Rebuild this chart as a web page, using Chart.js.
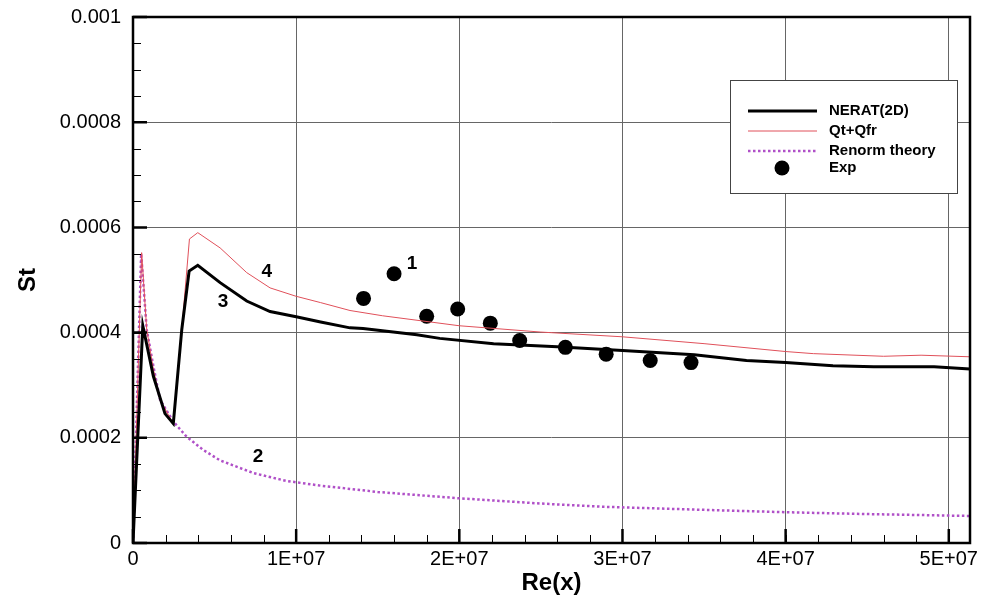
<!DOCTYPE html>
<html>
<head>
<meta charset="utf-8">
<script src="https://cdn.jsdelivr.net/npm/chart.js@4.4.0/dist/chart.umd.min.js"></script>
<style>
  html, body { margin: 0; padding: 0; background: #fff; }
</style>
</head>
<body>
<canvas id="chart" width="984" height="601"></canvas>
<script>
// NERAT(2D) - thick black line
const neratRe = [0, 0.6e6, 1.25e6, 1.96e6, 2.47e6, 2.99e6, 3.44e6, 3.97e6, 5.34e6, 6.97e6, 8.4e6, 1.0e7, 1.15e7, 1.33e7, 1.41e7, 1.74e7, 1.88e7, 2.21e7, 2.6e7, 3.0e7, 3.44e7, 3.76e7, 4.0e7, 4.29e7, 4.54e7, 4.91e7, 5.13e7];
const neratSt = [0, 0.000413, 0.000317, 0.000246, 0.000227, 0.000406, 0.000517, 0.000528, 0.000495, 0.00046, 0.00044, 0.00043, 0.00042, 0.000409, 0.000408, 0.000396, 0.000389, 0.000379, 0.000373, 0.000366, 0.000358, 0.000347, 0.000343, 0.000337, 0.000335, 0.000335, 0.000331];

// Qt+Qfr - thin red line
const qtRe = [0, 0.53e6, 0.84e6, 1.25e6, 1.66e6, 2.47e6, 2.99e6, 3.46e6, 3.97e6, 5.34e6, 6.97e6, 8.4e6, 1.0e7, 1.15e7, 1.33e7, 1.53e7, 2.0e7, 2.5e7, 3.0e7, 3.5e7, 4.0e7, 4.17e7, 4.6e7, 4.83e7, 5.13e7];
const qtSt = [0, 0.000552, 0.000406, 0.00033, 0.000272, 0.000227, 0.000406, 0.000578, 0.00059, 0.000561, 0.000514, 0.000485, 0.000469, 0.000457, 0.000442, 0.000432, 0.000413, 0.000401, 0.000392, 0.000379, 0.000364, 0.00036, 0.000355, 0.000357, 0.000354];

// Renorm theory - dotted purple line
const renRe = [0, 0.5e6, 0.84e6, 1.25e6, 1.66e6, 2.47e6, 3.29e6, 4.3e6, 5.34e6, 7.38e6, 9.4e6, 1.15e7, 1.5e7, 2.0e7, 2.5e7, 2.87e7, 3.5e7, 4.0e7, 4.5e7, 5.13e7];
const renSt = [0, 0.00055, 0.000406, 0.000336, 0.000272, 0.000231, 0.000202, 0.000177, 0.000157, 0.000133, 0.000118, 0.000109, 0.000097, 0.000085, 0.000075, 0.000069, 0.000063, 0.0000585, 0.000055, 0.0000514];

// Exp - black dots
const expRe = [1.413e7, 1.60e7, 1.80e7, 1.99e7, 2.19e7, 2.37e7, 2.65e7, 2.90e7, 3.17e7, 3.42e7];
const expSt = [0.000465, 0.000512, 0.000431, 0.000445, 0.000418, 0.000385, 0.000372, 0.000359, 0.000347, 0.000343];

// curve numbers written on the plot
const noteText = ["1", "2", "3", "4"];
const noteRe = [1.71e7, 7.67e6, 5.52e6, 8.2e6];
const noteSt = [0.00053, 0.000164, 0.000459, 0.000516];

// axis ticks
const xTicks = [0, 1e7, 2e7, 3e7, 4e7, 5e7];
const xTickLabels = ["0", "1E+07", "2E+07", "3E+07", "4E+07", "5E+07"];
const yTicks = [0, 0.0002, 0.0004, 0.0006, 0.0008, 0.001];
const yTickLabels = ["0", "0.0002", "0.0004", "0.0006", "0.0008", "0.001"];

const X_MAX = 5.13e7;
const Y_MAX = 0.001;

function toPoints(xs, ys) {
    return xs.map((x, i) => ({ x: x, y: ys[i] }));
}

Chart.defaults.font.family = "'Liberation Sans', Arial, sans-serif";
Chart.defaults.color = "#000";

// thick frame around the plot, with inward major and minor ticks
const frameTicks = {
    id: "frameTicks",
    afterDraw(chart) {
        const ctx = chart.ctx;
        const a = chart.chartArea;
        const xs = chart.scales.x, ys = chart.scales.y;
        ctx.save();
        ctx.strokeStyle = "#000";
        ctx.lineCap = "butt";
        // minor ticks
        ctx.lineWidth = 1;
        ctx.beginPath();
        for (let k = 0; k * 2e6 <= X_MAX; k++) {
            const px = Math.round(xs.getPixelForValue(k * 2e6)) + 0.5;
            ctx.moveTo(px, a.bottom);
            ctx.lineTo(px, a.bottom - 8);
        }
        for (let k = 0; k <= 20; k++) {
            const py = Math.round(ys.getPixelForValue(k * 0.00005)) + 0.5;
            ctx.moveTo(a.left, py);
            ctx.lineTo(a.left + 8, py);
        }
        ctx.stroke();
        // major ticks
        ctx.lineWidth = 2.5;
        ctx.beginPath();
        xTicks.forEach(v => {
            const px = xs.getPixelForValue(v);
            ctx.moveTo(px, a.bottom);
            ctx.lineTo(px, a.bottom - 14);
        });
        yTicks.forEach(v => {
            const py = ys.getPixelForValue(v);
            ctx.moveTo(a.left, py);
            ctx.lineTo(a.left + 14, py);
        });
        ctx.stroke();
        // frame
        ctx.lineWidth = 2.5;
        ctx.strokeRect(a.left, a.top, a.right - a.left, a.bottom - a.top);
        ctx.restore();
    }
};

// boxed legend and curve numbers
const legendBox = {
    id: "legendBox",
    afterDatasetsDraw(chart) {
        const ctx = chart.ctx;
        const a = chart.chartArea;
        const xs = chart.scales.x, ys = chart.scales.y;
        ctx.save();

        // curve numbers
        ctx.font = "bold 19px 'Liberation Sans', Arial, sans-serif";
        ctx.fillStyle = "#000";
        ctx.textAlign = "center";
        ctx.textBaseline = "middle";
        noteText.forEach((t, i) => {
            ctx.fillText(t, xs.getPixelForValue(noteRe[i]), ys.getPixelForValue(noteSt[i]));
        });

        // legend
        const bx = a.right - 240, by = a.top + 63, bw = 227, bh = 113;
        ctx.fillStyle = "#fff";
        ctx.fillRect(bx, by, bw, bh);
        ctx.strokeStyle = "#444";
        ctx.lineWidth = 1;
        ctx.strokeRect(bx + 0.5, by + 0.5, bw, bh);

        const rows = [31, 51, 71, 88];
        ctx.font = "bold 15px 'Liberation Sans', Arial, sans-serif";
        ctx.textAlign = "left";
        chart.data.datasets.forEach((ds, i) => {
            const y = by + rows[i];
            if (ds.showLine === false) {
                ctx.fillStyle = ds.pointBackgroundColor;
                ctx.beginPath();
                ctx.arc(bx + 52, y, ds.pointRadius, 0, Math.PI * 2);
                ctx.fill();
            } else {
                ctx.strokeStyle = ds.borderColor;
                ctx.lineWidth = ds.borderWidth;
                ctx.setLineDash(ds.borderDash || []);
                ctx.beginPath();
                ctx.moveTo(bx + 18, y);
                ctx.lineTo(bx + 87, y);
                ctx.stroke();
                ctx.setLineDash([]);
            }
            ctx.fillStyle = "#000";
            ctx.fillText(ds.label, bx + 99, y);
        });
        ctx.restore();
    }
};

new Chart(document.getElementById("chart"), {
    type: "line",
    data: {
        datasets: [{
            label: "NERAT(2D)",
            data: toPoints(neratRe, neratSt),
            borderColor: "#000",
            borderWidth: 3,
            pointRadius: 0,
            tension: 0
        }, {
            label: "Qt+Qfr",
            data: toPoints(qtRe, qtSt),
            borderColor: "#e0505a",
            borderWidth: 1,
            pointRadius: 0,
            tension: 0
        }, {
            label: "Renorm theory",
            data: toPoints(renRe, renSt),
            borderColor: "#b050c8",
            borderWidth: 2.5,
            borderDash: [2.5, 2.5],
            pointRadius: 0,
            tension: 0
        }, {
            label: "Exp",
            data: toPoints(expRe, expSt),
            showLine: false,
            pointRadius: 7.5,
            pointBackgroundColor: "#000",
            pointBorderColor: "#000",
            pointBorderWidth: 0
        }]
    },
    options: {
        responsive: false,
        animation: false,
        layout: { padding: { left: 0, top: 17, right: 14, bottom: 0 } },
        plugins: {
            legend: { display: false },
            tooltip: { enabled: false }
        },
        scales: {
            x: {
                type: "linear",
                min: 0,
                max: X_MAX,
                afterFit: (s) => { s.height = 58; s.paddingLeft = 0; s.paddingRight = 0; },
                afterBuildTicks: (s) => { s.ticks = xTicks.map(v => ({ value: v })); },
                ticks: {
                    autoSkip: false,
                    maxRotation: 0,
                    padding: 4,
                    font: { size: 20 },
                    callback: (v) => xTickLabels[xTicks.indexOf(v)]
                },
                grid: { color: "#666", lineWidth: 1, drawTicks: false },
                border: { display: false },
                title: {
                    display: true,
                    text: "Re(x)",
                    font: { size: 24, weight: "bold" },
                    padding: { top: 0, bottom: 3 }
                }
            },
            y: {
                min: 0,
                max: Y_MAX,
                afterFit: (s) => { s.width = 133; s.paddingTop = 0; s.paddingBottom = 0; },
                afterBuildTicks: (s) => { s.ticks = yTicks.map(v => ({ value: v })); },
                ticks: {
                    autoSkip: false,
                    padding: 12,
                    font: { size: 20 },
                    callback: (v) => yTickLabels[yTicks.indexOf(v)]
                },
                grid: { color: "#666", lineWidth: 1, drawTicks: false },
                border: { display: false },
                title: {
                    display: true,
                    text: "St",
                    font: { size: 24, weight: "bold" },
                    padding: { top: 14, bottom: 0 }
                }
            }
        }
    },
    plugins: [legendBox, frameTicks]
});
</script>
</body>
</html>
